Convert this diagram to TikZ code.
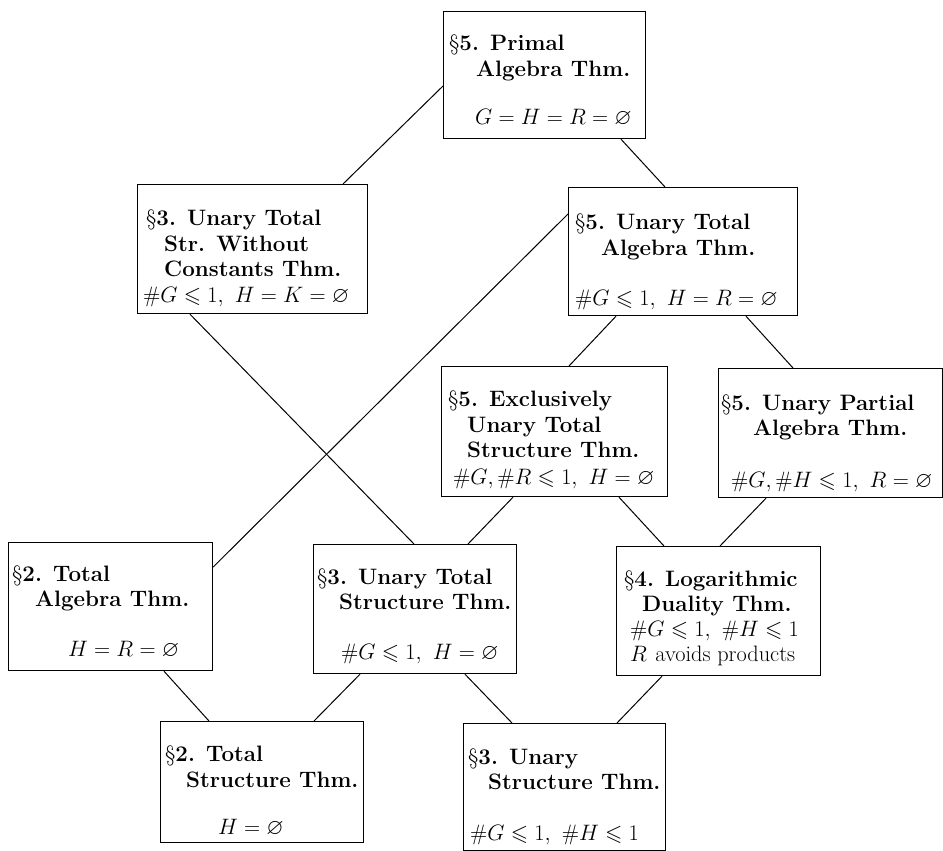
\RequirePackage{fix-cm}
\documentclass[tikz,border=0pt]{standalone}
\usepackage{amssymb}
\usepackage{fontspec}
\usetikzlibrary{calc}
\newcommand\thmfont{\fontsize{22.4}{25}\selectfont\bfseries}
\newcommand\sect[1]{\textmd{\S}#1.}
\tikzset{
  thmbox/.style={draw, line width=1.2bp, inner sep=0pt, anchor=north west},
  tl/.style={anchor=base west, inner sep=0pt, font=\thmfont},
  link/.style={line width=1bp},
}
\begin{document}
\begin{tikzpicture}[x=1bp,y=-1bp]
\useasboundingbox (0,0) rectangle (943,851);
% boxes
\node[thmbox, minimum width=202bp, minimum height=127bp] (P) at (443,11) {};
\node[thmbox, minimum width=230bp, minimum height=129bp] (A) at (137,184) {};
\node[thmbox, minimum width=229bp, minimum height=128bp] (B) at (568,187) {};
\node[thmbox, minimum width=226bp, minimum height=130bp] (C) at (441,366) {};
\node[thmbox, minimum width=224bp, minimum height=129bp] (D) at (718,368) {};
\node[thmbox, minimum width=204bp, minimum height=128bp] (E) at (8,542) {};
\node[thmbox, minimum width=203bp, minimum height=129bp] (F) at (313,544) {};
\node[thmbox, minimum width=204bp, minimum height=129bp] (G) at (616,546) {};
\node[thmbox, minimum width=203bp, minimum height=121bp] (H) at (160,721) {};
\node[thmbox, minimum width=202bp, minimum height=127bp] (I) at (463,723) {};
% texts
\node[tl] (P1) at (449,50) {\sect{5} Primal};
\node[tl] (P2) at (476,76) {Algebra Thm.};
\node[tl] (P3) at (475,124) {$G=H=R=\varnothing$};

\node[tl] (A1) at (146,225) {\sect{3} Unary Total};
\node[tl] (A2) at (164,251) {Str. Without};
\node[tl] (A3) at (164,276) {Constants Thm.};
\node[tl] (A4) at (143,302) {$\#G\leqslant 1,\,\,H=K=\varnothing$};

\node[tl] (B1) at (575,229) {\sect{5} Unary Total};
\node[tl] (B2) at (601,255) {Algebra Thm.};
\node[tl] (B3) at (575,305) {$\#G\leqslant 1,\,\,H=R=\varnothing$};

\node[tl] (C1) at (448,406) {\sect{5} Exclusively};
\node[tl] (C2) at (467,432) {Unary Total};
\node[tl] (C3) at (467,457) {Structure Thm.};
\node[tl] (C4) at (453,484) {$\#G,\#R\leqslant 1,\,\,H=\varnothing$};

\node[tl] (D1) at (721,410) {\sect{5} Unary Partial};
\node[tl] (D2) at (753,435) {Algebra Thm.};
\node[tl] (D3) at (731,487) {$\#G,\#H\leqslant 1,\,\,R=\varnothing$};

\node[tl] (E1) at (12,581) {\sect{2} Total};
\node[tl] (E2) at (35,606) {Algebra Thm.};
\node[tl] (E3) at (68,656) {$H=R=\varnothing$};

\node[tl] (F1) at (317,584) {\sect{3} Unary Total};
\node[tl] (F2) at (339,609) {Structure Thm.};
\node[tl] (F3) at (341,659) {$\#G\leqslant 1,\,\,H=\varnothing$};

\node[tl] (G1) at (624,586) {\sect{4} Logarithmic};
\node[tl] (G2) at (642,611) {Duality Thm.};
\node[tl] (G3) at (630,636) {$\#G\leqslant 1,\,\,\#H\leqslant 1$};
\node[tl] (G4) at (630,661) {$R$ \mdseries avoids products};

\node[tl] (H1) at (165,761) {\sect{2} Total};
\node[tl] (H2) at (186,787) {Structure Thm.};
\node[tl] (H3) at (218,834) {$H=\varnothing$};

\node[tl] (I1) at (468,764) {\sect{3} Unary};
\node[tl] (I2) at (488,789) {Structure Thm.};
\node[tl] (I3) at (470,840) {$\#G\leqslant 1,\,\,\#H\leqslant 1$};
% connectors
\draw[link] ($(P.north west)+(0,75)$) -- ($(A.north west)+(206,0)$);
\draw[link] ($(P.south west)+(178,0)$) -- ($(B.north west)+(97,0)$);
\draw[link] ($(A.south west)+(53,0)$) -- ($(F.north west)+(101,0)$);
\draw[link] ($(B.north west)+(0,27)$) -- ($(E.north east)+(0,25)$);
\draw[link] ($(B.south west)+(48,0)$) -- ($(C.north west)+(128,0)$);
\draw[link] ($(B.south west)+(178,0)$) -- ($(D.north west)+(75,0)$);
\draw[link] ($(C.south west)+(72,0)$) -- ($(F.north west)+(155,0)$);
\draw[link] ($(C.south west)+(178,0)$) -- ($(G.north west)+(48,0)$);
\draw[link] ($(D.south west)+(48,0)$) -- ($(G.north west)+(104,0)$);
\draw[link] ($(E.south west)+(156,0)$) -- ($(H.north west)+(49,0)$);
\draw[link] ($(F.south west)+(47,0)$) -- ($(H.north west)+(154,0)$);
\draw[link] ($(F.south west)+(152,0)$) -- ($(I.north west)+(49,0)$);
\draw[link] ($(G.south west)+(46,0)$) -- ($(I.north west)+(154,0)$);
\end{tikzpicture}
\end{document}
